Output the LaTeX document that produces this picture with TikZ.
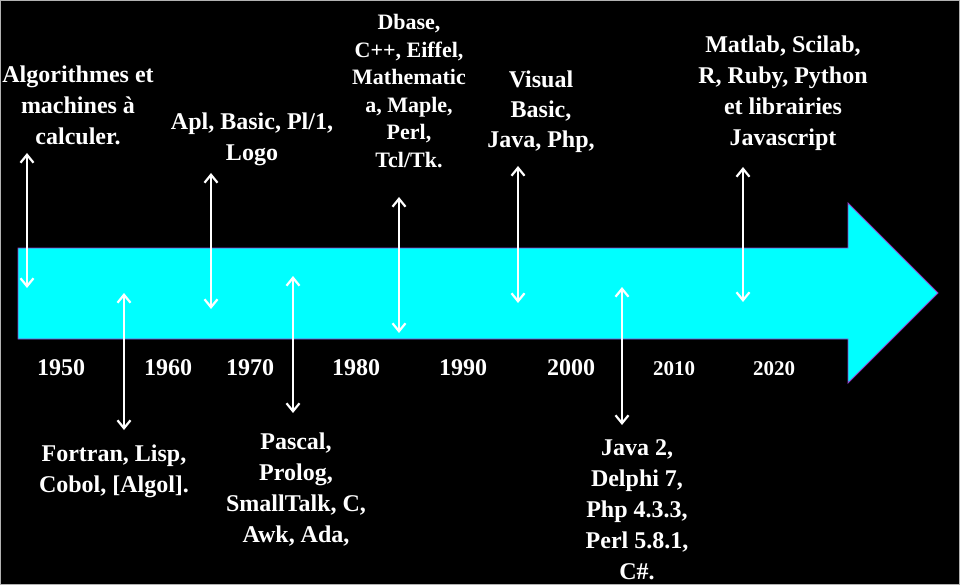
\documentclass[tikz,border=0pt]{standalone}
\usepackage{fontspec}
\setmainfont{Liberation Serif}
\usetikzlibrary{arrows.meta}
\usetikzlibrary{positioning}
\definecolor{barcyan}{RGB}{0,255,255}
\definecolor{barline}{RGB}{150,60,200}
\tikzset{lang/.style={text=white, align=center, inner sep=0pt, anchor=north, font=\bfseries\fontsize{24}{31}\selectfont},
year/.style={text=white, inner sep=0pt, anchor=base, font=\bfseries\fontsize{24}{28}\selectfont},
dbl/.style={draw=white, line width=2.2pt, {Straight Barb[length=8pt,width=13pt]}-{Straight Barb[length=8pt,width=13pt]}}}

\begin{document}
\begin{tikzpicture}[x=1pt,y=-1pt]
\useasboundingbox (0,0) rectangle (960,585);
\fill[black, draw=gray!60, line width=1.5pt] (0,0) rectangle (960,585);
% the time line
\fill[barcyan, draw=barline, line width=0.8pt] (18,248) -- (848,248) -- (848,203) -- (938,293) -- (848,383) -- (848,339) -- (18,339) -- cycle;

\node (alg) [lang] at (78,66) {Algorithmes et\\machines à\\calculer.};
\node (apl) [lang] at (252,113) {Apl, Basic, Pl/1,\\Logo};
\node (dbase) [lang, font=\bfseries\fontsize{22}{27.6}\selectfont] at (409,14) {Dbase,\\C++, Eiffel,\\Mathematic\\a, Maple,\\Perl,\\Tcl/Tk.};
\node (vb) [lang, font=\bfseries\fontsize{24}{30}\selectfont] at (541,71) {Visual\\Basic,\\Java, Php,};
\node (mat) [lang] at (783,36) {Matlab, Scilab,\\R, Ruby, Python\\et librairies\\Javascript};
\node (fort) [lang] at (114,445) {Fortran, Lisp,\\Cobol, [Algol].};
\node (pas) [lang] at (296,433) {Pascal,\\Prolog,\\SmallTalk, C,\\Awk, Ada,};
\node (java) [lang] at (637,439) {Java 2,\\Delphi 7,\\Php 4.3.3,\\Perl 5.8.1,\\C\#.};

% years
\node (y1950) [year] at (61,375) {1950};
\node (y1960) [year] at (168,375) {1960};
\node (y1970) [year] at (250,375) {1970};
\node (y1980) [year] at (356,375) {1980};
\node (y1990) [year] at (463,375) {1990};
\node (y2000) [year] at (571,375) {2000};
\node (y2010) [year, font=\bfseries\fontsize{21}{25}\selectfont] at (674,375) {2010};
\node (y2020) [year, font=\bfseries\fontsize{21}{25}\selectfont] at (774,375) {2020};

% arrow ends
\coordinate (a1t) at (27,153);  \coordinate (a1b) at (27,288);
\coordinate (a2t) at (124,293); \coordinate (a2b) at (124,430);
\coordinate (a3t) at (211,173); \coordinate (a3b) at (211,309);
\coordinate (a4t) at (293,276); \coordinate (a4b) at (293,413);
\coordinate (a5t) at (399,197); \coordinate (a5b) at (399,333);
\coordinate (a6t) at (518,166); \coordinate (a6b) at (518,303);
\coordinate (a7t) at (622,287); \coordinate (a7b) at (622,425);
\coordinate (a8t) at (743,167); \coordinate (a8b) at (743,302);
\draw[dbl] (a1t) -- (a1b);
\draw[dbl] (a2t) -- (a2b);
\draw[dbl] (a3t) -- (a3b);
\draw[dbl] (a4t) -- (a4b);
\draw[dbl] (a5t) -- (a5b);
\draw[dbl] (a6t) -- (a6b);
\draw[dbl] (a7t) -- (a7b);
\draw[dbl] (a8t) -- (a8b);
\end{tikzpicture}
\end{document}
